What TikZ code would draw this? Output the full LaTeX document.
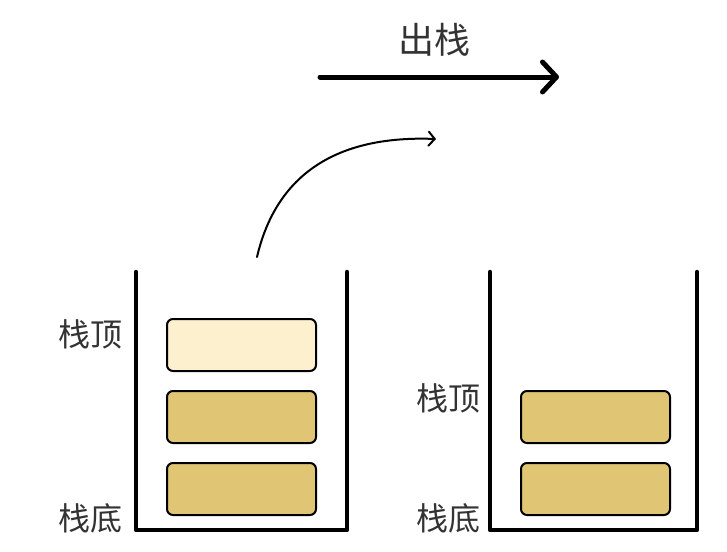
\documentclass[tikz,border=0pt]{standalone}
\usepackage{fontspec}
\setmainfont{Noto Sans CJK SC}
\usetikzlibrary{arrows.meta}
\definecolor{boxgold}{HTML}{E0C575}
\definecolor{boxlight}{HTML}{FDF0CF}
\definecolor{txt}{HTML}{333333}
\tikzset{
  wall/.style={line width=4.5pt, line cap=round, line join=round},
  elem/.style={draw, line width=2pt, rounded corners=6pt, minimum width=149pt, minimum height=52pt, inner sep=0pt, fill=boxgold},
  lbl/.style={text=txt, font=\fontsize{32pt}{36pt}\selectfont, inner sep=0pt},
}
\begin{document}
\begin{tikzpicture}[x=1pt,y=-1pt]
\useasboundingbox (0,0) rectangle (727,551);
% containers
\draw[wall] (136,272) -- (136,530) -- (347,530) -- (347,272);
\draw[wall] (490,272) -- (490,530) -- (697,530) -- (697,272);
% left stack
\node[elem, fill=boxlight] (l1) at (241.5,345) {};
\node[elem] (l2) at (241.5,417) {};
\node[elem] (l3) at (241.5,489) {};
% right stack
\node[elem] (r2) at (595.5,417) {};
\node[elem] (r3) at (595.5,489) {};
% labels
\node[lbl] (ltop) at (90,334) {栈顶};
\node[lbl] (lbot) at (90,518) {栈底};
\node[lbl] (rtop) at (448,398) {栈顶};
\node[lbl] (rbot) at (448,518) {栈底};
\node[lbl, font=\fontsize{36pt}{40pt}\selectfont] (title) at (434,40) {出栈};
% top arrow
\coordinate (as) at (320,77);
\coordinate (ae) at (559,77);
\draw[line width=5pt, line cap=round, -{Straight Barb[length=14pt, width=30pt, line cap=round, line join=round]}] (as) -- (ae);
% curved arrow
\coordinate (cs) at (257,257);
\coordinate (ce) at (436,139);
\draw[line width=2pt, line cap=round, -{Straight Barb[length=6pt, width=14pt, line cap=round]}] (cs) .. controls (275,180) and (330,135) .. (ce);
\end{tikzpicture}
\end{document}
